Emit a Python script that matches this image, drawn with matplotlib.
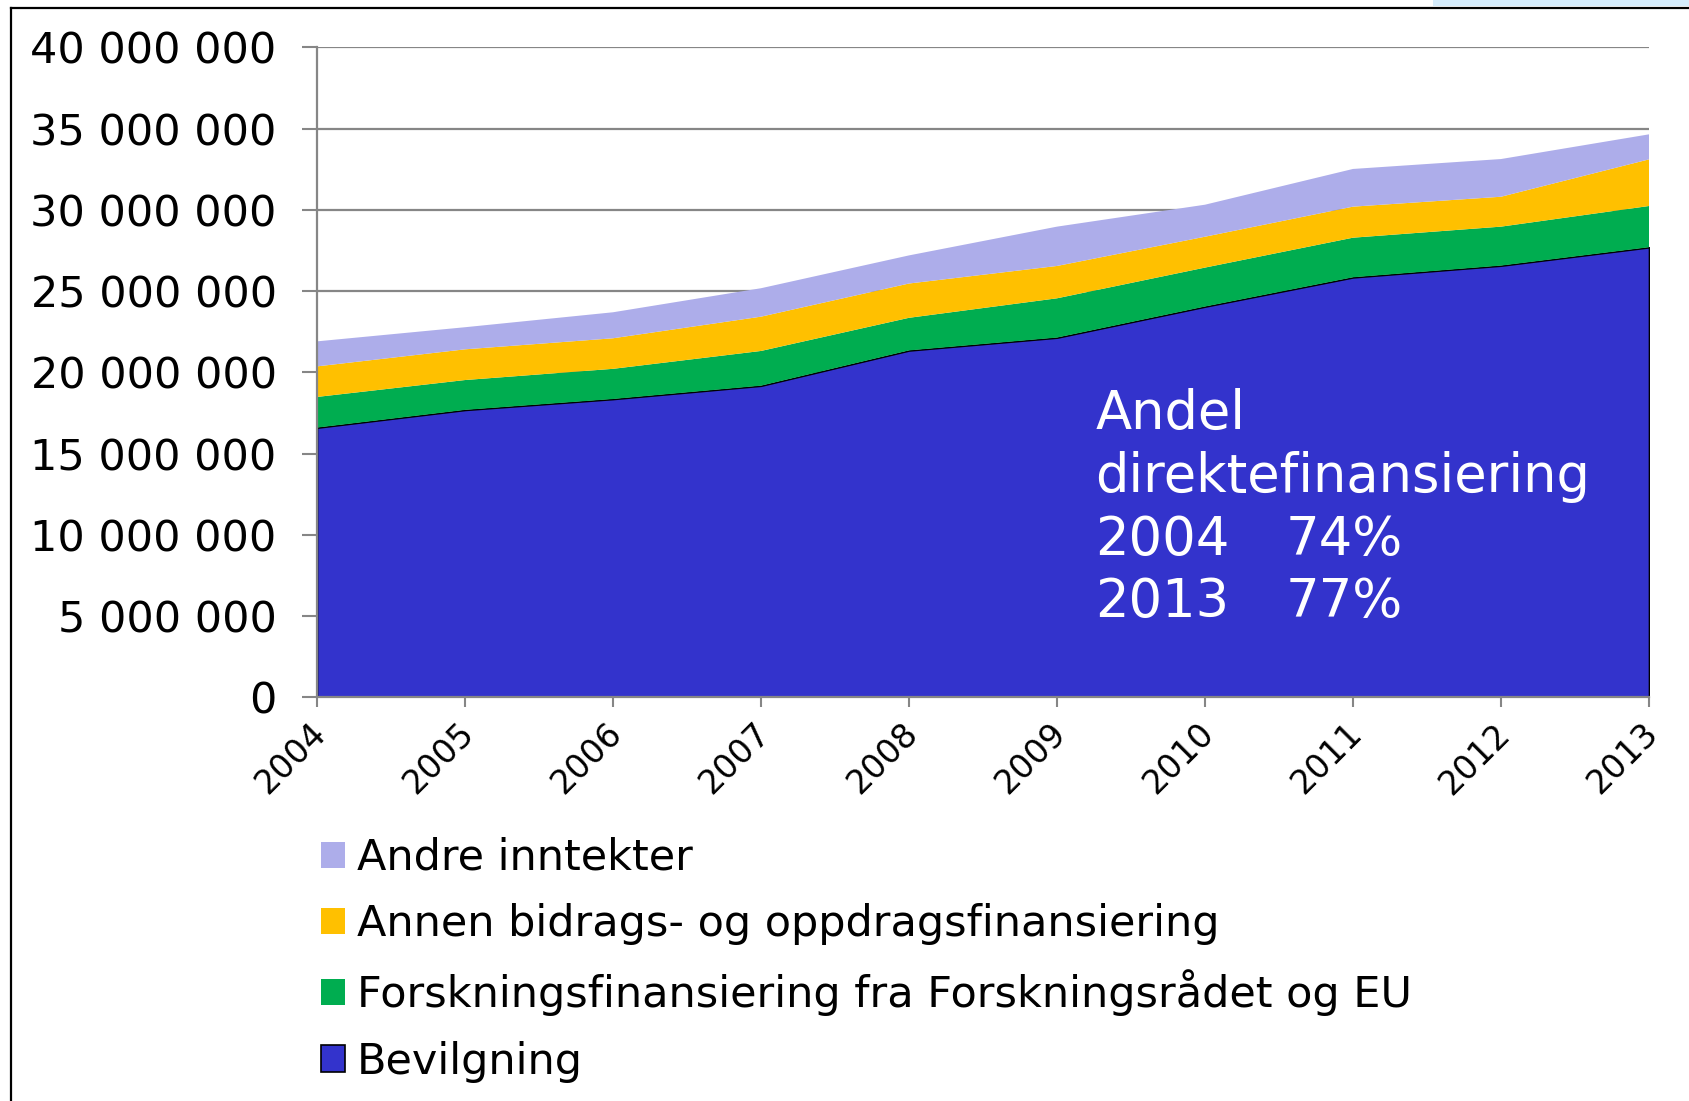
import matplotlib
matplotlib.use("Agg")
import matplotlib.pyplot as plt
from matplotlib.patches import Patch, Rectangle
from matplotlib.lines import Line2D
from matplotlib.ticker import FuncFormatter, MultipleLocator
from matplotlib.transforms import ScaledTranslation

# ---- data (NOK 1000) ----
years = [2004, 2005, 2006, 2007, 2008, 2009, 2010, 2011, 2012, 2013]
bevilgning = [16_600_000, 17_690_000, 18_360_000, 19_180_000, 21_350_000,
              22_140_000, 24_050_000, 25_850_000, 26_570_000, 27_700_000]
forskning = [1_890_000, 1_840_000, 1_860_000, 2_140_000, 2_010_000,
             2_420_000, 2_400_000, 2_440_000, 2_400_000, 2_540_000]
annen = [1_880_000, 1_890_000, 1_880_000, 2_110_000, 2_110_000,
         1_990_000, 1_900_000, 1_910_000, 1_840_000, 2_870_000]
andre = [1_540_000, 1_360_000, 1_600_000, 1_750_000, 1_730_000,
         2_420_000, 1_970_000, 2_320_000, 2_320_000, 1_540_000]

labels = ["Bevilgning",
          "Forskningsfinansiering fra Forskningsrådet og EU",
          "Annen bidrags- og oppdragsfinansiering",
          "Andre inntekter"]
colors = ["#3333CC", "#00AD50", "#FFC000", "#ADADEA"]
share_title = ["Andel", "direktefinansiering"]
share_years = ["2004", "2013"]
share_values = ["74%", "77%"]

plt.rcParams['font.family'] = ['DejaVu Sans']

W, H = 1690, 1101
fig = plt.figure(figsize=(W / 100, H / 100), dpi=100)
ax = fig.add_axes([317 / W, 1 - 697.4 / H, (1649 - 317) / W, (697.4 - 47.4) / H])

polys = ax.stackplot(years, bevilgning, forskning, annen, andre,
                     colors=colors, linewidth=0, zorder=2)
# black outline on top of the Bevilgning area
polys[0].set_edgecolor("black")
polys[0].set_linewidth(1.2)

grey = "#868686"
ax.set_xlim(years[0], years[-1])
ax.set_ylim(0, 40_000_000)
ax.yaxis.set_major_locator(MultipleLocator(5_000_000))
ax.yaxis.set_major_formatter(FuncFormatter(lambda v, p: f"{int(v):,}".replace(",", " ")))
ax.set_xticks(years)
ax.set_xticklabels([str(y) for y in years], rotation=45, ha="right",
                   rotation_mode="anchor", fontsize=24)
ax.grid(axis="y", color=grey, linewidth=1.6, zorder=0)
ax.set_axisbelow(True)
for s in ["top", "right"]:
    ax.spines[s].set_visible(False)
for s in ["left", "bottom"]:
    ax.spines[s].set_color(grey)
    ax.spines[s].set_linewidth(1.6)
    ax.spines[s].set_zorder(3)
ax.tick_params(axis="y", direction="out", length=11, width=1.5, color=grey,
               pad=18, labelsize=31)
ax.tick_params(axis="x", direction="out", length=7, width=1.5, color=grey,
               pad=7)
shift = ScaledTranslation(-8 / 100, 0, fig.dpi_scale_trans)
for lbl in ax.get_xticklabels():
    lbl.set_transform(lbl.get_transform() + shift)

# annotation block (white text inside the Bevilgning area)
x_left, x_right = 2009.26, 2010.547
y_base, y_step = 16_530_000, 3_870_000
for i, line in enumerate(share_title):
    ax.text(x_left, y_base - i * y_step, line, color="white", fontsize=38,
            ha="left", va="baseline", zorder=5)
for j, (yr, val) in enumerate(zip(share_years, share_values)):
    yy = y_base - (j + 2) * y_step
    ax.text(x_left, yy, yr, color="white", fontsize=38,
            ha="left", va="baseline", zorder=5)
    ax.text(x_right, yy, val, color="white", fontsize=38,
            ha="left", va="baseline", zorder=5)

handles = [Patch(facecolor=colors[3], edgecolor="none"),
           Patch(facecolor=colors[2], edgecolor="none"),
           Patch(facecolor=colors[1], edgecolor="none"),
           Patch(facecolor=colors[0], edgecolor="black", linewidth=1.2)]
fig.legend(handles, labels[::-1], loc="upper left",
           bbox_to_anchor=(321 / W, 1 - 837 / H), frameon=False,
           fontsize=31, handlelength=0.56, handleheight=0.56,
           handletextpad=0.28, labelspacing=0.565, borderpad=0,
           borderaxespad=0)

# outer frame
fig.add_artist(Rectangle((1433 / W, 1 - 6 / H), 1 - 1433 / W, 6 / H,
                         transform=fig.transFigure, facecolor="#D5ECFB",
                         edgecolor="none"))
fig.add_artist(Line2D([11 / W, 11 / W], [0, 1 - 7.5 / H], transform=fig.transFigure,
                      color="black", linewidth=1.6))
fig.add_artist(Line2D([11 / W, 1], [1 - 7.5 / H, 1 - 7.5 / H], transform=fig.transFigure,
                      color="black", linewidth=1.6))

fig.savefig("out.png", dpi=100)
